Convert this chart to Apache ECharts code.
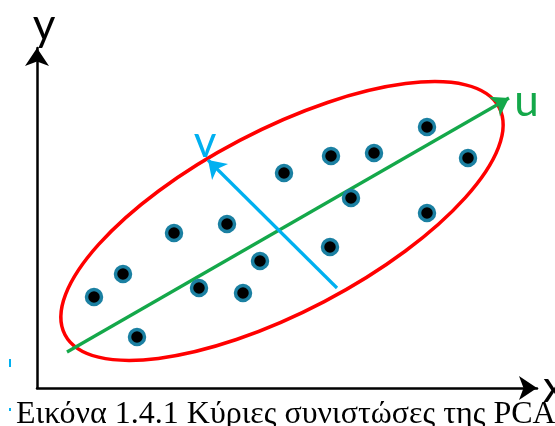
<!DOCTYPE html>
<html>
<head>
<meta charset="utf-8">
<script src="https://cdn.jsdelivr.net/npm/echarts@6/dist/echarts.min.js"></script>
<style>
  html, body { margin: 0; padding: 0; background: #ffffff; }
  #chart { width: 555px; height: 426px; }
</style>
</head>
<body>
<div id="chart"></div>
<script>
// Observations (x, y) in plot units
const pointX = [1.14, 1.72, 2.00, 2.74, 3.24, 3.80, 4.12, 4.46, 4.94, 5.88, 5.86, 6.28, 6.74, 7.80, 7.80, 8.62];
const pointY = [1.82, 2.28, 1.02, 3.10, 2.00, 3.28, 1.90, 2.54, 4.30, 4.64, 2.82, 3.80, 4.70, 5.22, 3.50, 4.60];

// Principal directions: start and tip of each arrow
const uStart = [0.60, 0.72];
const uEnd = [9.44, 5.80];
const vStart = [6.00, 2.00];
const vEnd = [3.42, 4.56];

// Spread ellipse: centre, semi-axes, tilt in degrees
const ellipseCenter = [4.90, 3.34];
const ellipseRadii = [4.90, 1.82];
const ellipseTilt = 27.65;

// Axis extents and texts
const xRange = [0, 10];
const yRange = [0, 6.8];
const axisNames = ['x', 'y'];
const componentNames = ['u', 'v'];
const caption = 'Εικόνα 1.4.1 Κύριες συνιστώσες της PCA';

const GREEN = '#14a84a';
const BLUE = '#00b0f0';
const RED = '#ff0000';
const LABEL_FONT = 'Lato, "Open Sans", sans-serif';

const chart = echarts.init(document.getElementById('chart'), null, { renderer: 'canvas' });

function axisCommon(name) {
  return {
    type: 'value',
    name: name,
    nameLocation: 'end',
    nameTextStyle: { color: '#000', fontSize: 44, fontFamily: LABEL_FONT },
    axisLine: {
      show: true,
      onZero: false,
      symbol: ['none', 'arrow'],
      symbolSize: [18, 18],
      lineStyle: { color: '#000', width: 2.5 }
    },
    axisTick: { show: false },
    axisLabel: { show: false },
    splitLine: { show: false }
  };
}

const xAxis = Object.assign(axisCommon(axisNames[0]), { min: xRange[0], max: xRange[1], nameGap: 6 });
const yAxis = Object.assign(axisCommon(axisNames[1]), { min: yRange[0], max: yRange[1], nameGap: 0 });
yAxis.nameTextStyle = Object.assign({}, yAxis.nameTextStyle, { align: 'center', padding: [0, 0, 0, 14] });

function arrowSeries(name, start, end, color, labelDistance) {
  return {
    type: 'lines',
    coordinateSystem: 'cartesian2d',
    silent: true,
    clip: false,
    z: name === 'v' ? 4 : 3,
    symbol: ['none', 'arrow'],
    symbolSize: 17,
    lineStyle: { color: color, width: 3.2, opacity: 1, curveness: 0 },
    label: {
      show: true,
      position: 'end',
      formatter: name,
      color: color,
      fontSize: 44,
      fontFamily: LABEL_FONT,
      distance: labelDistance
    },
    data: [{ coords: [start, end] }]
  };
}

const option = {
  animation: false,
  backgroundColor: '#ffffff',
  title: {
    text: caption,
    left: 11,
    top: 394,
    textStyle: { color: '#000', fontFamily: '"Liberation Serif", "Times New Roman", serif', fontSize: 32, fontWeight: 'normal' }
  },
  grid: { left: 37, top: 48, right: 18, bottom: 38, containLabel: false, outerBoundsMode: 'none' },
  xAxis: xAxis,
  yAxis: yAxis,
  series: [
    {
      type: 'custom',
      coordinateSystem: 'cartesian2d',
      silent: true,
      clip: false,
      z: 3,
      renderItem: function (params, api) {
        const c = api.coord([api.value(0), api.value(1)]);
        const s = api.size([ellipseRadii[0], ellipseRadii[1]]);
        return {
          type: 'ellipse',
          x: c[0],
          y: c[1],
          rotation: ellipseTilt * Math.PI / 180,
          shape: { cx: 0, cy: 0, rx: s[0], ry: s[1] },
          style: { fill: 'none', stroke: RED, lineWidth: 3.5 }
        };
      },
      data: [ellipseCenter]
    },
    arrowSeries(componentNames[0], uStart, uEnd, GREEN, [6, -7]),
    arrowSeries(componentNames[1], vStart, vEnd, BLUE, [4, 24]),
    {
      type: 'scatter',
      silent: true,
      z: 5,
      symbol: 'circle',
      symbolSize: 15,
      itemStyle: { color: '#000', borderColor: '#1b80a2', borderWidth: 3.5, opacity: 1 },
      data: pointX.map(function (x, i) { return [x, pointY[i]]; })
    }
  ],
  graphic: [
    { type: 'rect', left: 9, top: 359, shape: { width: 2, height: 8 }, style: { fill: BLUE }, silent: true },
    { type: 'rect', left: 9, top: 408, shape: { width: 2, height: 3 }, style: { fill: BLUE }, silent: true }
  ]
};

chart.setOption(option);
</script>
</body>
</html>
